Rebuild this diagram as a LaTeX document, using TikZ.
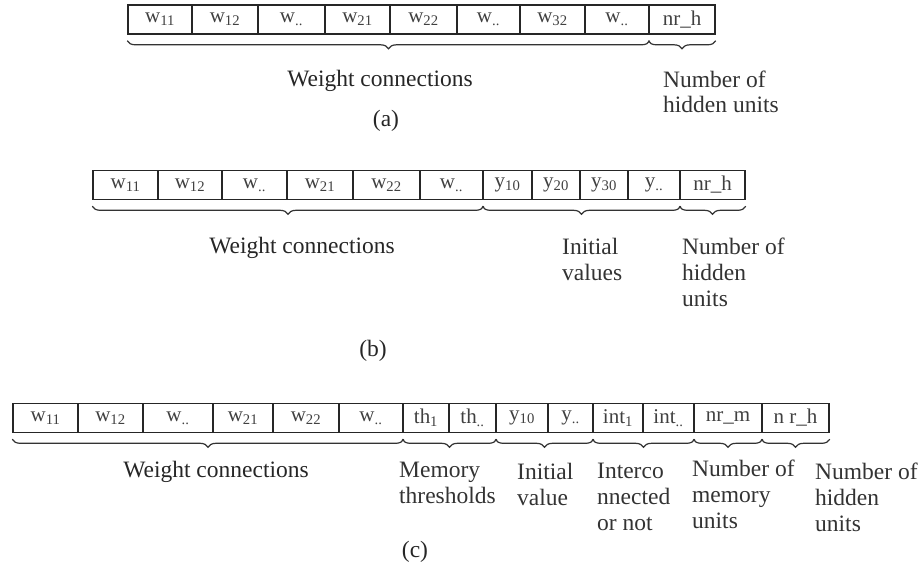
\documentclass[tikz,border=0pt]{standalone}
\usepackage{fontspec}
\setmainfont{Liberation Serif}
\usetikzlibrary{decorations.pathreplacing}

\begin{document}
\begin{tikzpicture}[x=1pt,y=-1pt]
\tikzstyle{cell} = [
	shape=rectangle,
	draw=black!85, %border of one gene
	line width=1.6pt,
	minimum height=29pt,
	inner sep=0pt,
	text=black!75,
	font=\fontsize{21}{23}\selectfont
];
\tikzstyle{part} = [
	decorate,
	decoration={brace,mirror,amplitude=8pt},
	line width=1.2pt,
	draw=black!80
];
\tikzstyle{caption} = [
	align=left,
	anchor=north west,
	inner sep=0pt,
	text=black!80,
	font=\fontsize{23.5}{26}\selectfont
];
\tikzstyle{tag} = [inner sep=0pt, text=black!85, font=\fontsize{23.5}{26}\selectfont];

\useasboundingbox (0,0) rectangle (924,569);

%chromosome (a)
\begin{scope}[shift={(0,19.5)}]
	\node[cell, minimum width=64pt](a1) at (160,0) {w\textsubscript{11}};
	\node[cell, minimum width=66pt](a2) at (225,0) {w\textsubscript{12}};
	\node[cell, minimum width=67pt](a3) at (291.5,0) {w\textsubscript{..}};
	\node[cell, minimum width=65pt](a4) at (357.5,0) {w\textsubscript{21}};
	\node[cell, minimum width=67pt](a5) at (423.5,0) {w\textsubscript{22}};
	\node[cell, minimum width=63pt](a6) at (488.5,0) {w\textsubscript{..}};
	\node[cell, minimum width=65pt](a7) at (552.5,0) {w\textsubscript{32}};
	\node[cell, minimum width=64pt](a8) at (617,0) {w\textsubscript{..}};
	\node[cell, minimum width=66pt](a9) at (682,0) {nr\_h};
\end{scope}

\draw[part] ([yshift=-6pt]a1.south west) -- ([yshift=-6pt]a8.south east);
\draw[part] ([yshift=-6pt]a9.south west) -- ([yshift=-6pt]a9.south east);

\node[tag, anchor=base](wa) at (380,87) {Weight connections};
\node[caption, font=\fontsize{23.5}{24.5}\selectfont](ha) at (663,71) {Number of\\hidden units};
\node[tag](la) at (386,121) {(a)};

%chromosome (b)
\begin{scope}[shift={(0,185)}]
	\node[cell, minimum width=65pt](b1) at (125.5,0) {w\textsubscript{11}};
	\node[cell, minimum width=64pt](b2) at (190,0) {w\textsubscript{12}};
	\node[cell, minimum width=65pt](b3) at (254.5,0) {w\textsubscript{..}};
	\node[cell, minimum width=66pt](b4) at (320,0) {w\textsubscript{21}};
	\node[cell, minimum width=67pt](b5) at (386.5,0) {w\textsubscript{22}};
	\node[cell, minimum width=63pt](b6) at (451.5,0) {w\textsubscript{..}};
	\node[cell, minimum width=49pt](b7) at (507.5,0) {y\textsubscript{10}};
	\node[cell, minimum width=48pt](b8) at (556,0) {y\textsubscript{20}};
	\node[cell, minimum width=48pt](b9) at (604,0) {y\textsubscript{30}};
	\node[cell, minimum width=52pt](b10) at (654,0) {y\textsubscript{..}};
	\node[cell, minimum width=65pt](b11) at (712.5,0) {nr\_h};
\end{scope}

\draw[part] ([yshift=-6pt]b1.south west) -- ([yshift=-6pt]b6.south east);
\draw[part] ([yshift=-6pt]b7.south west) -- ([yshift=-6pt]b10.south east);
\draw[part] ([yshift=-6pt]b11.south west) -- ([yshift=-6pt]b11.south east);

\node[tag, anchor=base](wb) at (302,254) {Weight connections};
\node[caption](ib) at (562,238) {Initial\\values};
\node[caption](hb) at (682,238) {Number of\\hidden\\units};
\node[tag](lb) at (373,351) {(b)};

%chromosome (c)
\begin{scope}[shift={(0,418)}]
	\node[cell, minimum width=65pt](c1) at (45.5,0) {w\textsubscript{11}};
	\node[cell, minimum width=65pt](c2) at (110.5,0) {w\textsubscript{12}};
	\node[cell, minimum width=70pt](c3) at (178,0) {w\textsubscript{..}};
	\node[cell, minimum width=60pt](c4) at (243,0) {w\textsubscript{21}};
	\node[cell, minimum width=66pt](c5) at (306,0) {w\textsubscript{22}};
	\node[cell, minimum width=64pt](c6) at (371,0) {w\textsubscript{..}};
	\node[cell, minimum width=46pt](c7) at (426,0) {th\textsubscript{1}};
	\node[cell, minimum width=47pt](c8) at (472.5,0) {th\textsubscript{..}};
	\node[cell, minimum width=52pt](c9) at (522,0) {y\textsubscript{10}};
	\node[cell, minimum width=45pt](c10) at (570.5,0) {y\textsubscript{..}};
	\node[cell, minimum width=50pt](c11) at (618,0) {int\textsubscript{1}};
	\node[cell, minimum width=51pt](c12) at (668.5,0) {int\textsubscript{..}};
	\node[cell, minimum width=68pt](c13) at (728,0) {nr\_m};
	\node[cell, minimum width=67pt](c14) at (795.5,0) {n r\_h};
\end{scope}

\draw[part] ([yshift=-6pt]c1.south west) -- ([yshift=-6pt]c6.south east);
\draw[part] ([yshift=-6pt]c7.south west) -- ([yshift=-6pt]c8.south east);
\draw[part] ([yshift=-6pt]c9.south west) -- ([yshift=-6pt]c10.south east);
\draw[part] ([yshift=-6pt]c11.south west) -- ([yshift=-6pt]c12.south east);
\draw[part] ([yshift=-6pt]c13.south west) -- ([yshift=-6pt]c13.south east);
\draw[part] ([yshift=-6pt]c14.south west) -- ([yshift=-6pt]c14.south east);

\node[tag, anchor=base](wc) at (216,477) {Weight connections};
\node[caption](mc) at (399,462) {Memory\\thresholds};
\node[caption](ic) at (517,463) {Initial\\value};
\node[caption](cc) at (597,463) {Interco\\nnected\\or not};
\node[caption](nc) at (692,460) {Number of\\memory\\units};
\node[caption](hc) at (815,463) {Number of\\hidden\\units};
\node[tag](lc) at (415,552) {(c)};

\end{tikzpicture}
\end{document}
